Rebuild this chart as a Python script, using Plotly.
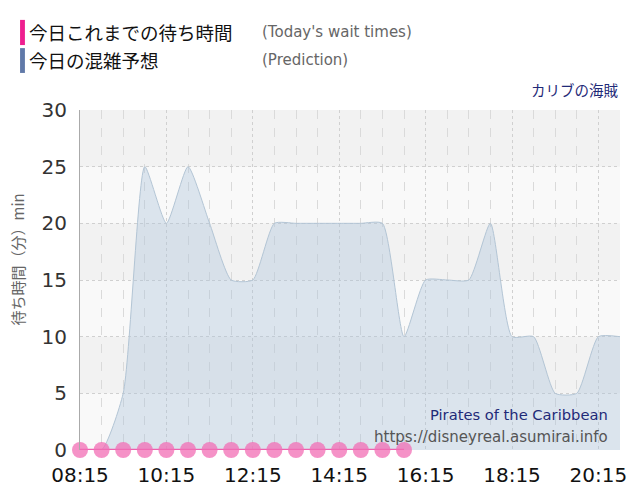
import plotly.graph_objects as go

day = '2024-01-01 '

pred_times = ['08:15', '08:45', '09:15', '09:45', '10:15', '10:45', '11:15', '11:45',
              '12:15', '12:45', '13:15', '13:45', '14:15', '14:45', '15:15', '15:45',
              '16:15', '16:45', '17:15', '17:45', '18:15', '18:45', '19:15', '19:45',
              '20:15', '20:45']
pred_wait = [0, 0, 5, 25, 20, 25, 20, 15,
             15, 20, 20, 20, 20, 20, 20, 10,
             15, 15, 15, 20, 10, 10, 5, 5,
             10, 10]

actual_times = ['08:15', '08:45', '09:15', '09:45', '10:15', '10:45', '11:15', '11:45',
                '12:15', '12:45', '13:15', '13:45', '14:15', '14:45', '15:15', '15:45']
actual_wait = [0, 0, 0, 0, 0, 0, 0, 0, 0, 0, 0, 0, 0, 0, 0, 0]

band_edges = [5, 10, 15, 20, 25, 30]

fig = go.Figure()

# alternating background bands
for i in range(0, len(band_edges) - 1, 2):
    fig.add_shape(type='rect', xref='paper', yref='y', x0=0, x1=1,
                  y0=band_edges[i], y1=band_edges[i + 1],
                  fillcolor='#f2f2f2', line_width=0, layer='below')

fig.add_trace(go.Scatter(
    x=[day + t for t in pred_times], y=pred_wait,
    mode='lines', line=dict(color='#b3c5d5', width=1, shape='spline', smoothing=0.55),
    fill='tozeroy', fillcolor='rgba(170,195,218,0.38)',
    hoverinfo='skip', showlegend=False))

fig.add_trace(go.Scatter(
    x=[day + t for t in actual_times], y=actual_wait,
    mode='lines+markers', line=dict(color='#ee5fae', width=2.5),
    marker=dict(size=16, color='rgba(242,110,180,0.75)', line_width=0),
    cliponaxis=False, showlegend=False))

# custom legend
fig.add_shape(type='rect', xref='paper', yref='paper', x0=-0.111, x1=-0.102, y0=1.191, y1=1.265,
              fillcolor='#ee1f8f', line_width=0)
fig.add_shape(type='rect', xref='paper', yref='paper', x0=-0.111, x1=-0.102, y0=1.109, y1=1.182,
              fillcolor='#6079a8', line_width=0)

legend_items = [
    ('今日これまでの待ち時間', "(Today's wait times)", 1.229),
    ('今日の混雑予想', '(Prediction)', 1.147),
]
for jp, en, yy in legend_items:
    fig.add_annotation(xref='paper', yref='paper', x=-0.098, y=yy, xanchor='left', yanchor='middle',
                       text=jp, showarrow=False,
                       font=dict(family='Noto Sans CJK JP', size=18.5, color='#111'))
    fig.add_annotation(xref='paper', yref='paper', x=0.333, y=yy, xanchor='left', yanchor='middle',
                       text=en, showarrow=False,
                       font=dict(family='DejaVu Sans', size=15, color='#666'))

fig.add_annotation(xref='paper', yref='paper', x=1.002, y=1.059, xanchor='right', yanchor='middle',
                   text='カリブの海賊', showarrow=False,
                   font=dict(family='Noto Sans CJK JP', size=14.5, color='#1f2a78'))
fig.add_annotation(xref='paper', yref='paper', x=0.981, y=0.103, xanchor='right', yanchor='middle',
                   text='Pirates of the Caribbean', showarrow=False,
                   font=dict(family='DejaVu Sans', size=14.7, color='#1f2a78'))
fig.add_annotation(xref='paper', yref='paper', x=0.981, y=0.038, xanchor='right', yanchor='middle',
                   text='https://disneyreal.asumirai.info', showarrow=False,
                   font=dict(family='DejaVu Sans', size=15, color='#555'))
fig.add_annotation(xref='paper', yref='paper', x=-0.115, y=0.56, xanchor='center', yanchor='middle',
                   text='待ち時間（分）min', textangle=-90, showarrow=False,
                   font=dict(family='Noto Sans CJK JP', size=15, color='#666'))

fig.update_layout(
    width=640, height=500,
    margin=dict(l=72, r=28, t=102, b=58, autoexpand=False),
    paper_bgcolor='white', plot_bgcolor='#f9f9f9',
    font=dict(family='DejaVu Sans', color='#333'),
)
fig.update_xaxes(
    type='date', range=[day + '08:15', day + '20:45'],
    tick0=day + '08:15', dtick=2 * 3600 * 1000, tickformat='%H:%M',
    tickfont=dict(size=20, color='#111'),
    showgrid=True, gridcolor='#d0d0d0', griddash='dot', gridwidth=1,
    minor=dict(dtick=30 * 60 * 1000, tick0=day + '08:15', showgrid=True,
               gridcolor='#dadada', griddash='dash', gridwidth=1),
    showline=False, zeroline=False, ticks='outside', ticklen=7, tickcolor='rgba(0,0,0,0)',
    automargin=False,
)
fig.update_yaxes(
    range=[0, 30], dtick=5, tickfont=dict(size=20, color='#333'),
    showgrid=True, gridcolor='#d0d0d0', griddash='dot',
    showline=True, linecolor='#aaaaaa', linewidth=1, zeroline=False,
    ticks='outside', ticklen=8, tickcolor='rgba(0,0,0,0)',
    automargin=False,
)

fig.write_html('out.html')
